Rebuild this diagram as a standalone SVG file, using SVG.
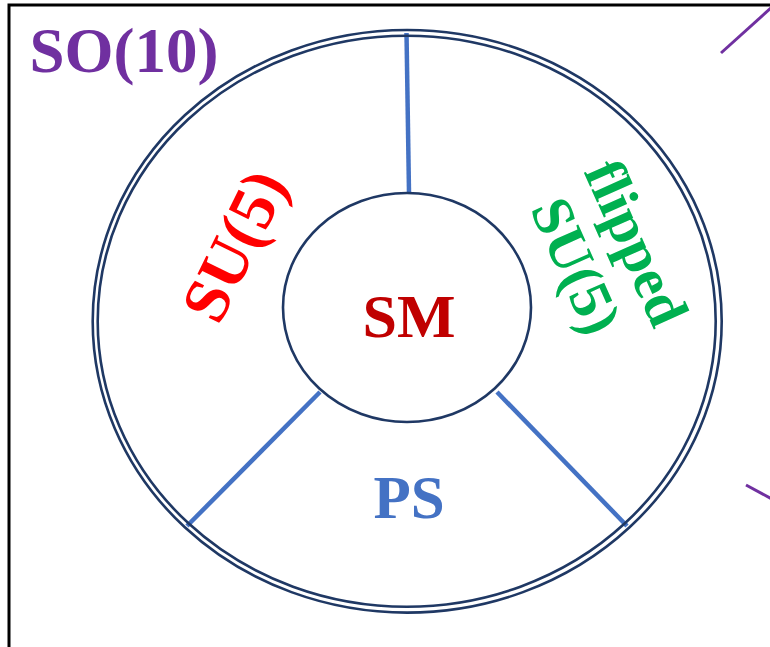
<svg xmlns="http://www.w3.org/2000/svg" width="770" height="647" viewBox="0 0 770 647">
<style>
.ring{fill:none;stroke:#1F3864;stroke-width:2.6}
.spoke{stroke:#4472C4;stroke-width:4.5;stroke-linecap:butt}
.purple{stroke:#7030A0;stroke-width:3}
.t{font-family:"Liberation Serif","Times New Roman",serif;font-weight:bold;text-anchor:middle}
</style>
<rect x="0" y="0" width="770" height="647" fill="#ffffff"/>
<rect x="9" y="5" width="800" height="700" fill="none" stroke="#000000" stroke-width="3"/>
<g id="connectors">
<line class="purple" x1="721" y1="53" x2="772" y2="7"/>
<line class="purple" x1="746" y1="485" x2="772" y2="499"/>
<line class="spoke" x1="406.5" y1="33" x2="409" y2="193"/>
<line class="spoke" x1="320" y1="392" x2="187" y2="526"/>
<line class="spoke" x1="497" y1="392" x2="627" y2="526"/>
</g>
<g id="so10">
<ellipse class="ring" cx="407.2" cy="321.3" rx="314.5" ry="291.3"/>
<ellipse class="ring" cx="406.7" cy="321.2" rx="309" ry="285.5"/>
<text class="t" x="124" y="72" font-size="63" fill="#7030A0">SO(10)</text>
</g>
<g id="sm">
<ellipse class="ring" cx="407" cy="307.5" rx="124" ry="114.5"/>
<text class="t" x="409" y="337" font-size="62" fill="#C00000">SM</text>
</g>
<g id="su5">
<text class="t" font-size="65" fill="#FF0000" transform="translate(235,246) rotate(-64)" y="21">SU(5)</text>
</g>
<g id="flipped">
<text class="t" font-size="58" fill="#00B050" transform="translate(636,243) rotate(66)" y="19">flipped</text>
<text class="t" font-size="58" fill="#00B050" transform="translate(576,266) rotate(66)" y="19">SU(5)</text>
</g>
<g id="ps">
<text class="t" x="409" y="518" font-size="61" fill="#4472C4">PS</text>
</g>
</svg>
